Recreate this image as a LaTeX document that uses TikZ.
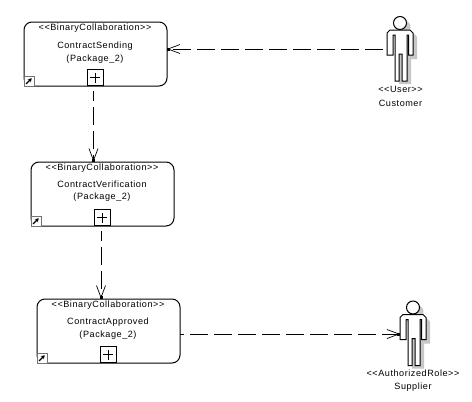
\documentclass[tikz,border=0pt]{standalone}
\usepackage{fontspec}
\setmainfont{Liberation Sans}
\usetikzlibrary{arrows.meta}
\newfontfamily\lblfont[LetterSpace=6]{Liberation Sans}
\tikzset{
  x=1pt,y=-1pt,
  collab/.style={draw=black,line width=1pt,rounded corners=8pt,minimum width=143pt,minimum height=64pt,inner sep=0pt,fill=white},
  plusbox/.style={draw=black,line width=1pt,minimum size=16pt,inner sep=0pt,fill=white},
  lbl/.style={font=\lblfont\fontsize{9.1}{11}\selectfont,inner sep=0pt,align=center,text=black},
  linkbox/.style={draw=black!55,line width=0.7pt,minimum size=10pt,inner sep=0pt,fill=white},
  dep/.style={draw=black,line width=1pt,dash pattern=on 18pt off 6pt,-{Straight Barb[length=12pt,width=9pt,line width=0.7pt,sep=-3pt]Square[length=3pt,width=3pt]}},
  actorline/.style={draw=black,line width=1pt,fill=white,line join=miter},
  actorshadow/.style={fill=black!22,draw=none},
  pics/actor/.style={code={
    \path[actorshadow] (4,-3) circle[radius=6.5];
    \path[actorshadow] (-6,4) -- (14,4) -- (17,7) -- (17,29) -- (11,29) -- (11,54) -- (-1,54) -- (-1,29) -- cycle;
    \draw[actorline] (0,-7) circle[radius=6.5];
    \draw[actorline] (-10,0) -- (10,0) -- (13,3) -- (13,25) -- (8.5,25) -- (8.5,5) -- (7,5) -- (7,51) -- (2,51) -- (2,24) -- (-1,24) -- (-1,51) -- (-5,51) -- (-5,5) -- (-7,5) -- (-7,25) -- (-13,25) -- (-13,3) -- cycle;
  }},
}
\newcommand{\linkmark}[1]{%
  \node[linkbox,anchor=south west] (#1l) at (#1.south west) {};
  \draw[line width=1.2pt,-{Stealth[length=3.5pt,width=4.5pt]}] ([shift={(-2.8,2.8)}]#1l.center) -- ([shift={(2.8,-2.8)}]#1l.center);
}
\newcommand{\plusmark}[1]{%
  \draw[line width=0.8pt] ([xshift=-5pt]#1.center) -- ([xshift=5pt]#1.center) ([yshift=-5pt]#1.center) -- ([yshift=5pt]#1.center);
}
\begin{document}
\begin{tikzpicture}
\useasboundingbox[fill=white] (0,0) rectangle (472,402);
% boxes
\node[collab] (cs) at (95.5,54) {};
\node[collab] (cv) at (102.5,194) {};
\node[collab] (ca) at (108.5,331) {};
\node[lbl] (css) at (95,28) {<<BinaryCollaboration>>};
\node[lbl] (cvs) at (102,168) {<<BinaryCollaboration>>};
\node[lbl] (cas) at (108,305) {<<BinaryCollaboration>>};
\node[lbl] (csn) at (95,46) {ContractSending};
\node[lbl] (csp) at (95,59) {(Package\_2)};
\node[lbl] (cvn) at (102,184) {ContractVerification};
\node[lbl] (cvp) at (102,197) {(Package\_2)};
\node[lbl] (can) at (108,322) {ContractApproved};
\node[lbl] (cap) at (108,335) {(Package\_2)};
\node[plusbox,anchor=south] (csplus) at (95,86) {}; \plusmark{csplus}
\node[plusbox,anchor=south] (cvplus) at (102,226) {}; \plusmark{cvplus}
\node[plusbox,anchor=south] (caplus) at (108,363) {}; \plusmark{caplus}
\linkmark{cs}\linkmark{cv}\linkmark{ca}
% actors
\pic at (400,30) {actor};
\pic at (413,314.5) {actor};
\coordinate (custhand) at (383,49);
\coordinate (supphand) at (400,334);
\coordinate (csr) at (167,49);
\coordinate (car) at (180,334);
\coordinate (csb) at (93.5,91);
\coordinate (cvt) at (93.5,161.5);
\coordinate (cvb) at (101,231);
\coordinate (cat) at (101,298.5);
\node[lbl] (custs) at (400.5,89) {<<User>>};
\node[lbl] (custn) at (400.5,103) {Customer};
\node[lbl] (supps) at (413,373) {<<AuthorizedRole>>};
\node[lbl] (suppn) at (413,387) {Supplier};
% connectors
\draw[dep] (custhand) -- (csr);
\draw[dep,dash phase=8pt] (csb) -- (cvt);
\draw[dep,dash phase=8pt] (cvb) -- (cat);
\draw[dep,dash phase=14pt] (car) -- (supphand);
\end{tikzpicture}
\end{document}
